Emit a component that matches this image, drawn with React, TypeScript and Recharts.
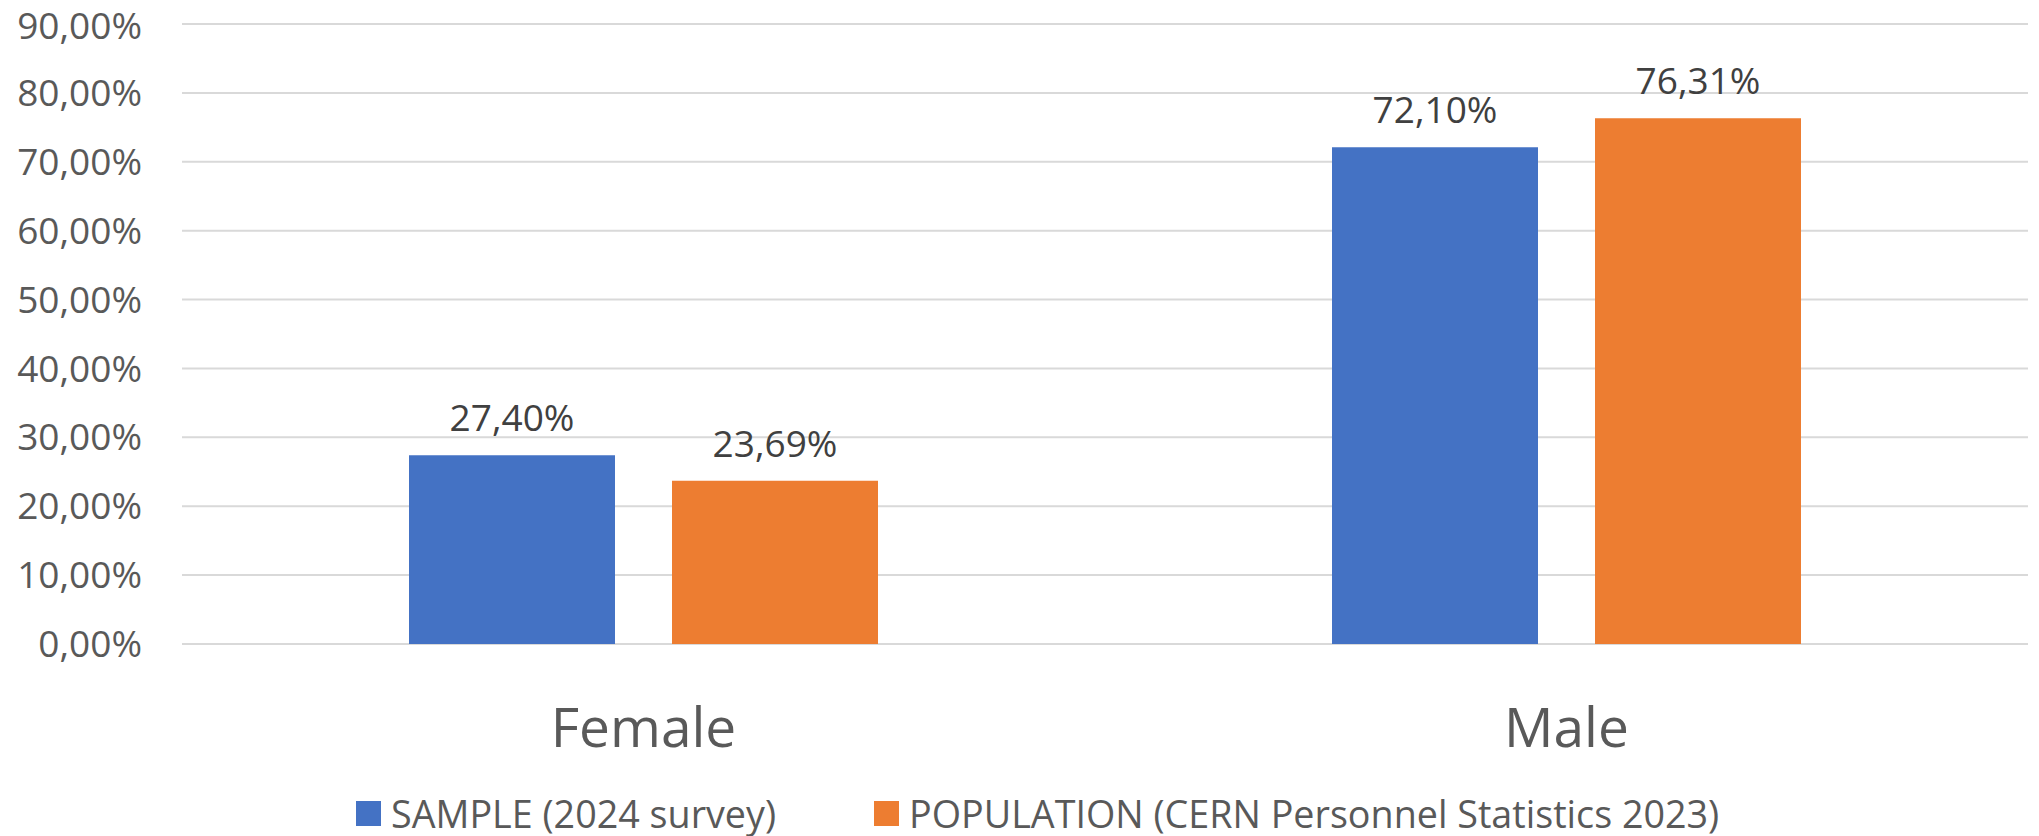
import React from "react";
import {
  BarChart,
  Bar,
  XAxis,
  YAxis,
  CartesianGrid,
  Legend,
  LabelList,
} from "recharts";

const categories = ["Female", "Male"];
const sampleValues = [27.4, 72.1];
const populationValues = [23.69, 76.31];
const yTicks = [0, 10, 20, 30, 40, 50, 60, 70, 80, 90];

const SERIES = [
  { key: "sample", name: "SAMPLE (2024 survey)", color: "#4472C4" },
  { key: "population", name: "POPULATION (CERN Personnel Statistics 2023)", color: "#ED7D31" },
];

const data = categories.map((c, i) => ({
  name: c,
  sample: sampleValues[i],
  population: populationValues[i],
}));

const FONT = "'Open Sans', sans-serif";

// 27.4 -> "27,40%"
const fmt = (v: number) => v.toFixed(2).replace(".", ",") + "%";

const LegendBox = () => (
  <div style={{ display: "flex", alignItems: "center", fontFamily: FONT, fontSize: 37.7, color: "#595959", height: 50, whiteSpace: "nowrap" }}>
    {SERIES.map((s, i) => (
      <div key={s.key} style={{ display: "flex", alignItems: "center", marginRight: i === 0 ? 98 : 0 }}>
        <span style={{ display: "inline-block", width: 25, height: 25, background: s.color, marginRight: 10 }} />
        <span>{s.name}</span>
      </div>
    ))}
  </div>
);

export default function App() {
  return (
    <div style={{ position: "absolute", left: 0, top: 0, background: "#fff" }}>
      <BarChart
        width={2039}
        height={836}
        data={data}
        margin={{ top: 24, right: 11, bottom: 92, left: 0 }}
        barCategoryGap={227}
        barGap={57}
      >
        <CartesianGrid vertical={false} stroke="#d9d9d9" strokeWidth={2} />
        <XAxis
          dataKey="name"
          height={100}
          axisLine={false}
          tickLine={false}
          tickSize={0}
          tickMargin={64}
          tick={{ fill: "#595959", fontSize: 55, fontFamily: FONT }}
        />
        <YAxis
          width={182}
          domain={[0, 90]}
          ticks={yTicks}
          axisLine={false}
          tickLine={false}
          tickSize={0}
          tickMargin={40}
          tickFormatter={fmt}
          tick={{ fill: "#595959", fontSize: 37, fontFamily: FONT }}
        />
        <Legend
          verticalAlign="middle"
          layout="horizontal"
          wrapperStyle={{ top: 788, left: 356, width: "auto" }}
          content={() => <LegendBox />}
        />
        {SERIES.map((s) => (
          <Bar key={s.key} dataKey={s.key} name={s.name} fill={s.color} isAnimationActive={false}>
            <LabelList
              dataKey={s.key}
              position="top"
              offset={24}
              formatter={(v: any) => fmt(Number(v))}
              style={{ fill: "#404040", fontSize: 37, fontFamily: FONT }}
            />
          </Bar>
        ))}
      </BarChart>
    </div>
  );
}
